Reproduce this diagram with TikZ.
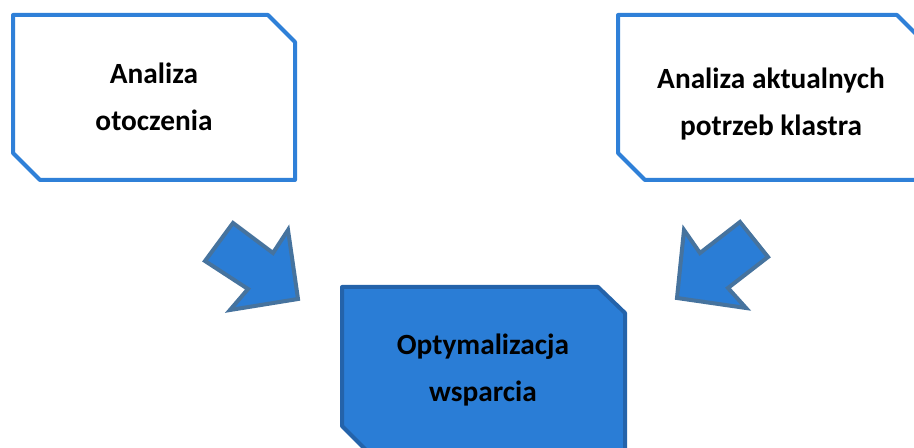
\documentclass[tikz,border=0pt]{standalone}
\usepackage{fontspec}
\setmainfont{Carlito}
\definecolor{boxline}{HTML}{2F80D8}
\definecolor{boxfill}{HTML}{2A7DD6}
\definecolor{darkline}{HTML}{2463AA}
\definecolor{arrline}{HTML}{46739E}
\tikzset{
  outlinebox/.style={draw=boxline, line width=3pt, fill=white, line join=round},
  filledbox/.style={draw=darkline, line width=3pt, fill=boxfill, line join=round},
  blockarrow/.style={draw=arrline, line width=3pt, fill=boxfill, line join=miter},
  label/.style={font=\fontsize{22}{35}\selectfont\bfseries, align=center, text=black}
}
\begin{document}
\begin{tikzpicture}[x=0.75pt,y=-0.75pt]
\clip (0,0) rectangle (914,448);
\fill[white] (0,0) rectangle (914,448);
% box 1
\draw[outlinebox] (13,15) -- (268,15) -- (295,42) -- (295,180) -- (40,180) -- (13,153) -- cycle;
\node[label] (otoczenie) at (154,97) {Analiza\\otoczenia};
% box 2
\draw[outlinebox] (618,15) -- (897,15) -- (924,42) -- (924,180) -- (645,180) -- (618,153) -- cycle;
\node[label] (potrzeby) at (771,104) {Analiza aktualnych\\potrzeb klastra};
% box 3
\draw[filledbox] (342,287) -- (598,287) -- (625,313) -- (625,453) -- (369,453) -- (342,426) -- cycle;
\node[label] (wsparcie) at (483,370) {Optymalizacja\\wsparcia};
% arrows
\draw[blockarrow] (205,261) -- (233,223) -- (273,253) -- (288,230) -- (298,299) -- (230,310) -- (248,289) -- cycle;
\draw[blockarrow] (740,222) -- (768,257) -- (728,288) -- (746,308) -- (677,298) -- (684,230) -- (700,253) -- cycle;
\end{tikzpicture}
\end{document}
